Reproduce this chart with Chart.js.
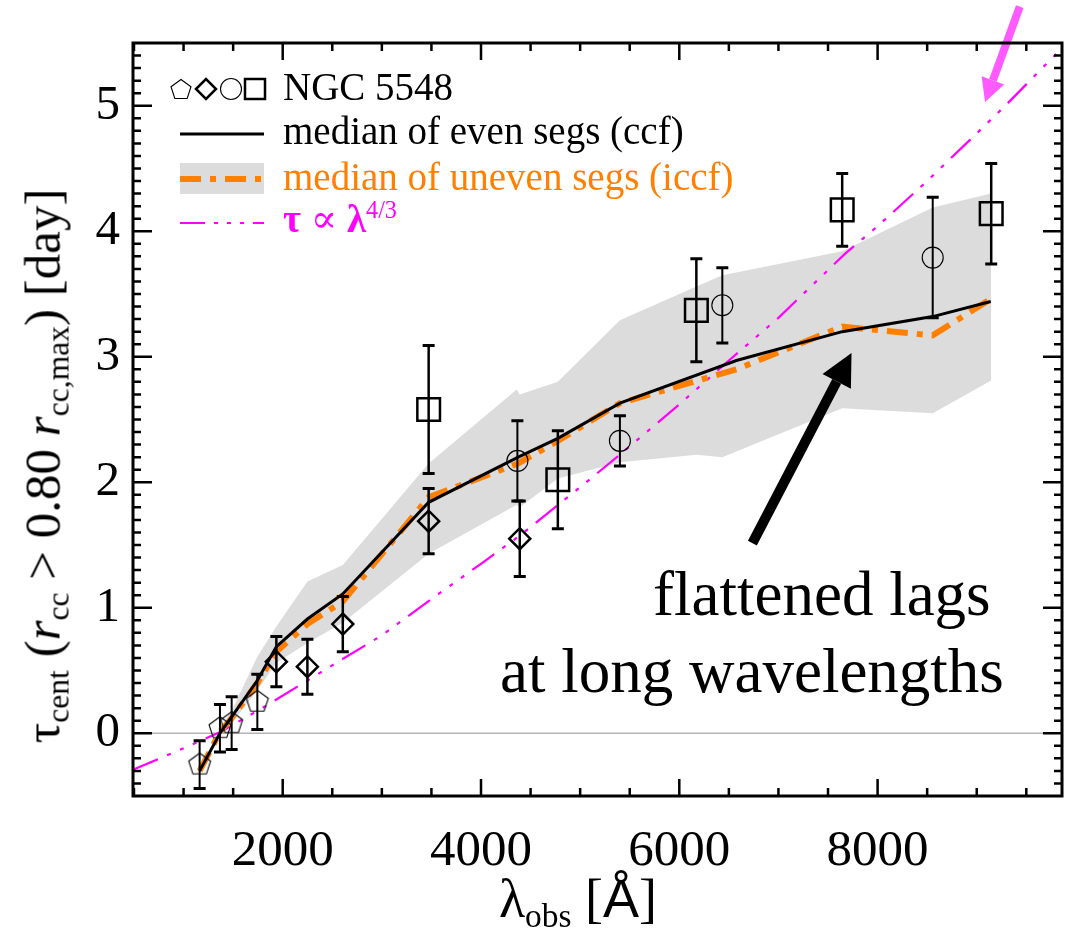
<!DOCTYPE html>
<html>
<head>
<meta charset="utf-8">
<script src="https://cdn.jsdelivr.net/npm/chart.js@4/dist/chart.umd.min.js"></script>
<style>
  html, body { margin: 0; padding: 0; background: #fff; }
  #wrap { position: relative; width: 1084px; height: 928px; overflow: hidden;
          font-family: "Liberation Serif", "DejaVu Serif", serif; }
  #wrap canvas { position: absolute; left: 0; top: 0; }
  .lbl { position: absolute; white-space: nowrap; line-height: 1; color: #000;
         font-family: "Liberation Serif", "DejaVu Serif", serif; }
  .sb { font-size: 0.62em; position: relative; top: 0.3em; }
  .sp { font-size: 0.62em; position: relative; top: -0.6em; }
</style>
</head>
<body>
<div id="wrap">
  <canvas id="lagChart" width="1084" height="928"></canvas>

  <!-- 凡例テキスト -->
  <div class="lbl" style="left:283px; top:67px; font-size:39px;">NGC 5548</div>
  <div class="lbl" style="left:283px; top:111px; font-size:39px;">median of even segs (ccf)</div>
  <div class="lbl" style="left:283px; top:157px; font-size:39px; color:#ff8000;">median of uneven segs (iccf)</div>
  <div class="lbl" style="left:283px; top:199px; font-size:39px; color:#ff00ff;"><b>τ</b> ∝ <b>λ</b><span class="sp">4/3</span></div>

  <!-- 注釈 -->
  <div class="lbl" style="left:653px; top:563px; font-size:63px;">flattened lags</div>
  <div class="lbl" style="left:500px; top:640px; font-size:63px;">at long wavelengths</div>

  <!-- 軸タイトル -->
  <div class="lbl" style="left:578px; top:871px; font-size:54px; transform:translateX(-50%);">λ<span class="sb">obs</span> [<span style="font-family:'Liberation Sans', sans-serif;">Å</span>]</div>
  <div class="lbl" style="left:43px; top:466px; font-size:51px; transform:translate(-50%,-50%) rotate(-90deg);">τ<span class="sb">cent</span> (<i>r</i><span class="sb">cc</span> &gt; 0.80 <i>r</i><span class="sb">cc,max</span>) [day]</div>
</div>

<script>
// 目盛りラベル
const xTickLabels = [2000, 4000, 6000, 8000];
const yTickLabels = [0, 1, 2, 3, 4, 5];

// HST（五角形）
const hstWave = [1162, 1367, 1485, 1744];
const hstLag  = [-0.25, 0.04, 0.08, 0.25];
const hstErr  = [0.19, 0.19, 0.21, 0.22];

// Swift（菱形）
const swiftWave = [1936, 2249, 2606, 3472, 4391];
const swiftLag  = [0.57, 0.53, 0.87, 1.69, 1.55];
const swiftErr  = [0.20, 0.22, 0.22, 0.26, 0.30];

// 地上観測（丸）
const circWave = [4367, 5401, 6434, 8556];
const circLag  = [2.17, 2.33, 3.41, 3.79];
const circErr  = [0.32, 0.20, 0.30, 0.48];

// 地上観測（四角）
const sqWave = [3472, 4775, 6172, 7643, 9146];
const sqLag  = [2.58, 2.02, 3.37, 4.17, 4.14];
const sqErr  = [0.51, 0.39, 0.41, 0.29, 0.40];

// セグメントの中央値
const medWave   = [1162, 1367, 1485, 1744, 1936, 2249, 2606, 3472, 4375, 4775, 5401, 6576, 7643, 8556, 9141];
const medEven   = [-0.30, 0.00, 0.13, 0.42, 0.69, 0.91, 1.11, 1.84, 2.20, 2.35, 2.63, 2.97, 3.20, 3.32, 3.44];
const medUneven = [-0.30, 0.01, 0.12, 0.40, 0.65, 0.87, 1.05, 1.88, 2.15, 2.33, 2.63, 2.90, 3.24, 3.17, 3.46];

// uneven segs のばらつき（灰色の帯）
const bandWave  = [1162, 1367, 1485, 1744, 1936, 2249, 2606, 3472, 4360, 4390, 4775, 5401, 6172, 6434, 7643, 8556, 9146];
const bandUpper = [-0.28, 0.03, 0.18, 0.61, 0.85, 1.21, 1.34, 2.15, 2.74, 2.70, 2.80, 3.29, 3.56, 3.65, 3.84, 4.19, 4.30];
const bandLower = [-0.30, -0.03, 0.08, 0.34, 0.56, 0.72, 0.88, 1.43, 1.82, 1.80, 2.03, 2.16, 2.22, 2.20, 2.59, 2.55, 2.81];

// τ ∝ λ^{4/3}
const modelWave = [490, 1000, 1370, 1750, 2250, 2600, 3000, 3500, 4000, 4400, 5000, 5400, 6000, 6500, 7000, 7670, 8000, 8500, 9000, 9300, 9860];
const modelLag  = [-0.29, -0.12, 0.01, 0.18, 0.42, 0.59, 0.78, 1.07, 1.35, 1.58, 1.96, 2.22, 2.62, 2.97, 3.31, 3.82, 4.04, 4.40, 4.78, 5.01, 5.46];

const xy = (xs, ys) => xs.map((v, i) => ({ x: v, y: ys[i] }));

// 五角形マーカー
function pentagonImage(r, lw) {
  const c = document.createElement('canvas');
  const s = 2 * Math.ceil(r + lw + 1);
  c.width = s; c.height = s;
  const g = c.getContext('2d');
  g.strokeStyle = '#000';
  g.lineWidth = lw;
  g.beginPath();
  for (let k = 0; k < 5; k++) {
    const a = -Math.PI / 2 + k * 2 * Math.PI / 5;
    const px = s / 2 + r * Math.cos(a), py = s / 2 + r * Math.sin(a);
    k ? g.lineTo(px, py) : g.moveTo(px, py);
  }
  g.closePath();
  g.stroke();
  return c;
}
const pentagon = pentagonImage(11.5, 1.1);

function markerSet(label, xs, ys, errs, style, radius, width, errWidth) {
  return {
    label, data: xy(xs, ys), yErr: errs, errWidth,
    showLine: false, order: 0,
    pointStyle: style, pointRadius: radius, pointHoverRadius: radius,
    pointBorderWidth: width, pointBorderColor: '#000',
    pointBackgroundColor: 'rgba(0,0,0,0)'
  };
}

// 誤差棒
const errorBars = {
  id: 'errorBars',
  afterDatasetsDraw(chart) {
    const { ctx, scales: { x, y } } = chart;
    ctx.save();
    ctx.strokeStyle = '#000';
    chart.data.datasets.forEach(ds => {
      if (!ds.yErr) return;
      ds.data.forEach((p, i) => {
        const px = x.getPixelForValue(p.x);
        const top = y.getPixelForValue(p.y + ds.yErr[i]);
        const bot = y.getPixelForValue(p.y - ds.yErr[i]);
        ctx.lineWidth = ds.errWidth;
        ctx.beginPath();
        ctx.moveTo(px, top); ctx.lineTo(px, bot);
        ctx.stroke();
        ctx.lineWidth = 3;
        ctx.beginPath();
        ctx.moveTo(px - 6, top); ctx.lineTo(px + 6, top);
        ctx.moveTo(px - 6, bot); ctx.lineTo(px + 6, bot);
        ctx.stroke();
      });
    });
    ctx.restore();
  }
};

function arrow(ctx, x1, y1, x2, y2, w, hl, hw, color) {
  const a = Math.atan2(y2 - y1, x2 - x1);
  const bx = x2 - hl * Math.cos(a), by = y2 - hl * Math.sin(a);
  ctx.save();
  ctx.strokeStyle = color; ctx.fillStyle = color;
  ctx.lineWidth = w;
  ctx.beginPath(); ctx.moveTo(x1, y1); ctx.lineTo(bx, by); ctx.stroke();
  ctx.beginPath();
  ctx.moveTo(x2, y2);
  ctx.lineTo(bx + hw * Math.sin(a), by - hw * Math.cos(a));
  ctx.lineTo(bx - hw * Math.sin(a), by + hw * Math.cos(a));
  ctx.closePath(); ctx.fill();
  ctx.restore();
}

// 凡例の記号
function legendMarker(ctx, kind, x, y) {
  ctx.save();
  ctx.strokeStyle = '#000';
  ctx.beginPath();
  if (kind === 'pentagon') {
    ctx.lineWidth = 1.1;
    for (let k = 0; k < 5; k++) {
      const a = -Math.PI / 2 + k * 2 * Math.PI / 5;
      const px = x + 10.5 * Math.cos(a), py = y + 1 + 10.5 * Math.sin(a);
      k ? ctx.lineTo(px, py) : ctx.moveTo(px, py);
    }
    ctx.closePath();
  } else if (kind === 'diamond') {
    ctx.lineWidth = 2.5;
    ctx.moveTo(x - 10, y); ctx.lineTo(x, y - 10); ctx.lineTo(x + 10, y); ctx.lineTo(x, y + 10);
    ctx.closePath();
  } else if (kind === 'circle') {
    ctx.lineWidth = 1.1;
    ctx.arc(x, y, 10.5, 0, 2 * Math.PI);
  } else {
    ctx.lineWidth = 2.5;
    ctx.rect(x - 10, y - 10, 20, 20);
  }
  ctx.stroke();
  ctx.restore();
}

const legendAndFrame = {
  id: 'legendAndFrame',
  afterDraw(chart) {
    const { ctx, chartArea: a, scales: { x, y } } = chart;

    // 凡例
    ctx.save();
    legendMarker(ctx, 'pentagon', 181, 89);
    legendMarker(ctx, 'diamond', 206, 89);
    legendMarker(ctx, 'circle', 231, 89);
    legendMarker(ctx, 'square', 255, 89);
    ctx.strokeStyle = '#000'; ctx.lineWidth = 3;
    ctx.beginPath(); ctx.moveTo(180, 134); ctx.lineTo(264, 134); ctx.stroke();
    ctx.fillStyle = '#dcdcdc'; ctx.fillRect(180, 163, 84, 31);
    ctx.strokeStyle = '#ff8000'; ctx.lineWidth = 6; ctx.setLineDash([21, 9, 6, 9]);
    ctx.beginPath(); ctx.moveTo(180, 179); ctx.lineTo(264, 179); ctx.stroke();
    ctx.strokeStyle = '#ff00ff'; ctx.lineWidth = 2.2; ctx.setLineDash([25, 9, 4, 9, 4, 9, 4, 9]);
    ctx.beginPath(); ctx.moveTo(180, 223); ctx.lineTo(264, 223); ctx.stroke();
    ctx.restore();

    // 矢印
    arrow(ctx, x.getPixelForValue(6737), y.getPixelForValue(1.515),
          x.getPixelForValue(7737), y.getPixelForValue(3.03), 10, 32, 16, '#000');
    arrow(ctx, x.getPixelForValue(9434), y.getPixelForValue(5.79),
          x.getPixelForValue(9084), y.getPixelForValue(5.03), 8, 23, 12, 'rgb(255,90,255)');

    // 目盛り（内向き、四辺）
    ctx.save();
    ctx.strokeStyle = '#000';
    ctx.lineWidth = 2.5;
    ctx.beginPath();
    for (let v = 500; v < x.max; v += 500) {
      const px = x.getPixelForValue(v);
      const len = v % 2000 === 0 ? 17 : 8;
      ctx.moveTo(px, a.bottom); ctx.lineTo(px, a.bottom - len);
      ctx.moveTo(px, a.top); ctx.lineTo(px, a.top + len);
    }
    for (let k = -4; k <= 54; k++) {
      const py = y.getPixelForValue(k / 10);
      const len = k % 10 === 0 ? 19 : 8;
      ctx.moveTo(a.left, py); ctx.lineTo(a.left + len, py);
      ctx.moveTo(a.right, py); ctx.lineTo(a.right - len, py);
    }
    ctx.stroke();
    ctx.lineWidth = 3;
    ctx.strokeRect(a.left, a.top, a.right - a.left, a.bottom - a.top);
    ctx.restore();
  }
};

Chart.defaults.font.family = '"Liberation Serif", "DejaVu Serif", serif';
Chart.defaults.color = '#000';

function drawChart() {
  const ctx = document.getElementById('lagChart').getContext('2d');
  new Chart(ctx, {
    type: 'scatter',
    data: {
      datasets: [
        { label: 'band lower', data: xy(bandWave, bandLower), showLine: true, borderWidth: 0,
          pointRadius: 0, fill: false, order: 6 },
        { label: 'band upper', data: xy(bandWave, bandUpper), showLine: true, borderWidth: 0,
          pointRadius: 0, fill: '-1', backgroundColor: '#dcdcdc', order: 5 },
        { label: 'zero', data: xy([490, 9860], [0, 0]), showLine: true, borderColor: '#b4b4b4',
          borderWidth: 1.5, pointRadius: 0, order: 4 },
        { label: 'τ ∝ λ^4/3', data: xy(modelWave, modelLag), showLine: true, borderColor: '#ff00ff',
          borderWidth: 2.2, borderDash: [27, 10, 4, 10, 4, 10, 4, 10], pointRadius: 0, order: 3 },
        { label: 'median of uneven segs (iccf)', data: xy(medWave, medUneven), showLine: true,
          borderColor: '#ff8000', borderWidth: 6, borderDash: [21, 9, 6, 9], pointRadius: 0, order: 2 },
        { label: 'median of even segs (ccf)', data: xy(medWave, medEven), showLine: true,
          borderColor: '#000', borderWidth: 3, pointRadius: 0, order: 1 },
        markerSet('HST', hstWave, hstLag, hstErr, pentagon, 12, 1, 2),
        markerSet('Swift', swiftWave, swiftLag, swiftErr, 'rectRot', 10.5, 2.5, 2.5),
        markerSet('ground (circle)', circWave, circLag, circErr, 'circle', 10.5, 1.1, 2),
        markerSet('ground (square)', sqWave, sqLag, sqErr, 'rect', 16, 2.5, 2.5)
      ]
    },
    options: {
      responsive: false,
      devicePixelRatio: 1,
      animation: false,
      layout: { padding: { top: 43, right: 22, left: 0, bottom: 0 } },
      plugins: { legend: { display: false }, tooltip: { enabled: false } },
      scales: {
        x: {
          type: 'linear', min: 490, max: 9860,
          grid: { display: false, drawTicks: false },
          border: { display: false },
          ticks: { font: { size: 51 }, padding: 25, maxRotation: 0, autoSkip: false,
                   callback: v => String(v) },
          afterBuildTicks: s => { s.ticks = xTickLabels.map(v => ({ value: v })); },
          afterFit: s => { s.height = 132; }
        },
        y: {
          type: 'linear', min: -0.5, max: 5.5,
          grid: { display: false, drawTicks: false },
          border: { display: false },
          ticks: { font: { size: 49 }, padding: 13, autoSkip: false, callback: v => String(v) },
          afterBuildTicks: s => { s.ticks = yTickLabels.map(v => ({ value: v })); },
          afterFit: s => { s.width = 133; }
        }
      }
    },
    plugins: [errorBars, legendAndFrame]
  });
}

// フォント読み込み後に描画
Promise.all([
  document.fonts.load('48px "Liberation Serif"'),
  document.fonts.load('italic 48px "Liberation Serif"'),
  document.fonts.load('bold 48px "Liberation Serif"')
]).catch(() => {}).then(drawChart);
</script>
</body>
</html>
